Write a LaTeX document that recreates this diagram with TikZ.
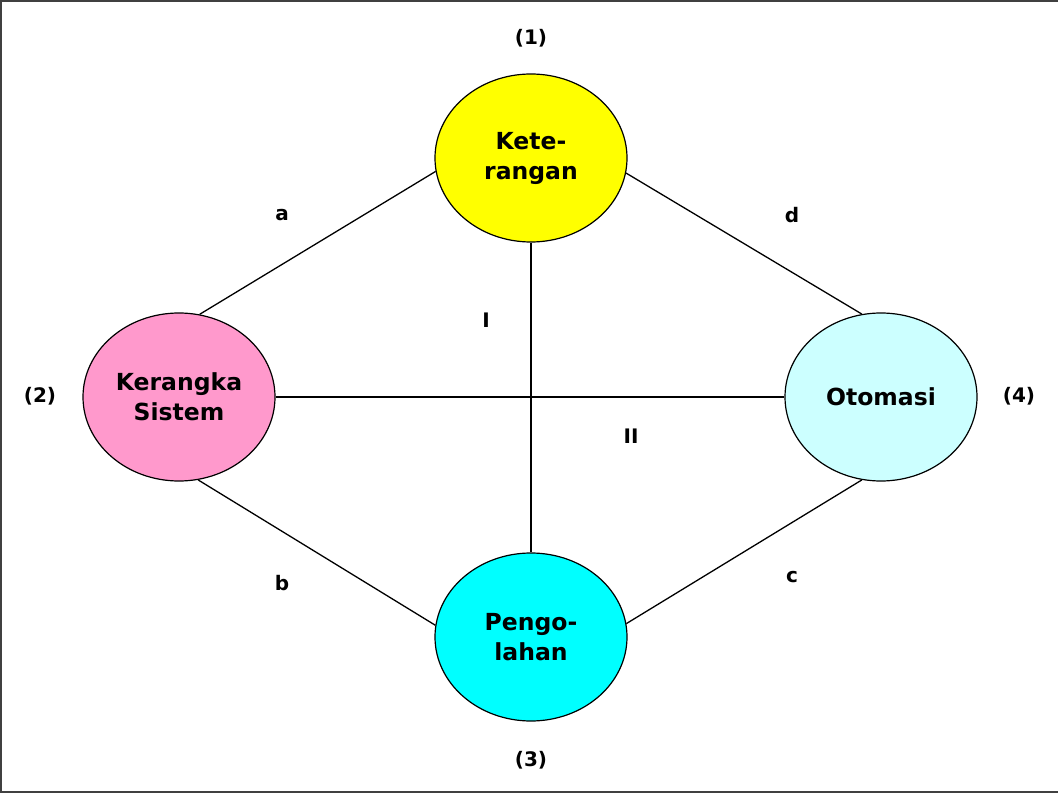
\documentclass[tikz,border=0pt]{standalone}
\usepackage{fontspec}
\setmainfont{DejaVu Sans}
\usetikzlibrary{shapes.geometric}
\definecolor{cyel}{HTML}{FFFF00}
\definecolor{cpink}{HTML}{FF99CC}
\definecolor{clcyan}{HTML}{CCFFFF}
\definecolor{ccyan}{HTML}{00FFFF}
\begin{document}
\begin{tikzpicture}[x=1pt,y=-1pt,
  bub/.style={ellipse,draw=black,line width=1.2pt,minimum width=192pt,minimum height=168pt,inner sep=0pt,
    align=center,font=\fontsize{23.5}{30}\selectfont\bfseries},
  lab/.style={font=\fontsize{20}{24}\selectfont\bfseries,inner sep=0pt},
  link/.style={draw=black,line width=1.3pt}]
\useasboundingbox (0,0) rectangle (1058,794);
\draw[line width=1.6pt,draw=black!75] (1057.5,1) -- (1,1) -- (1,792) -- (1057.5,792);
\node[bub,fill=cyel] (ket) at (531,158) {Kete-\\rangan};
\node[bub,fill=cpink] (ker) at (179,397) {Kerangka\\Sistem};
\node[bub,fill=clcyan] (oto) at (881,397) {Otomasi};
\node[bub,fill=ccyan] (pen) at (531,637) {Pengo-\\lahan};
\draw[link] (ker.76) -- (ket.188);
\draw[link] (ket.-9) -- (oto.103);
\draw[link] (ker.283) -- (pen.173);
\draw[link] (oto.257) -- (pen.8);
\draw[link] (ket.south) -- (pen.north);
\draw[link] (ker.east) -- (oto.west);
\node[lab] (n1) at (531,38) {(1)};
\node[lab] (n2) at (40,396) {(2)};
\node[lab] (n3) at (531,760) {(3)};
\node[lab] (n4) at (1019,396) {(4)};
\node[lab] (la) at (282,215) {a};
\node[lab] (ld) at (792,215) {d};
\node[lab] (lb) at (282,583) {b};
\node[lab] (lc) at (792,577) {c};
\node[lab] (lI) at (486,320) {I};
\node[lab] (lII) at (631,436) {II};
\end{tikzpicture}
\end{document}
